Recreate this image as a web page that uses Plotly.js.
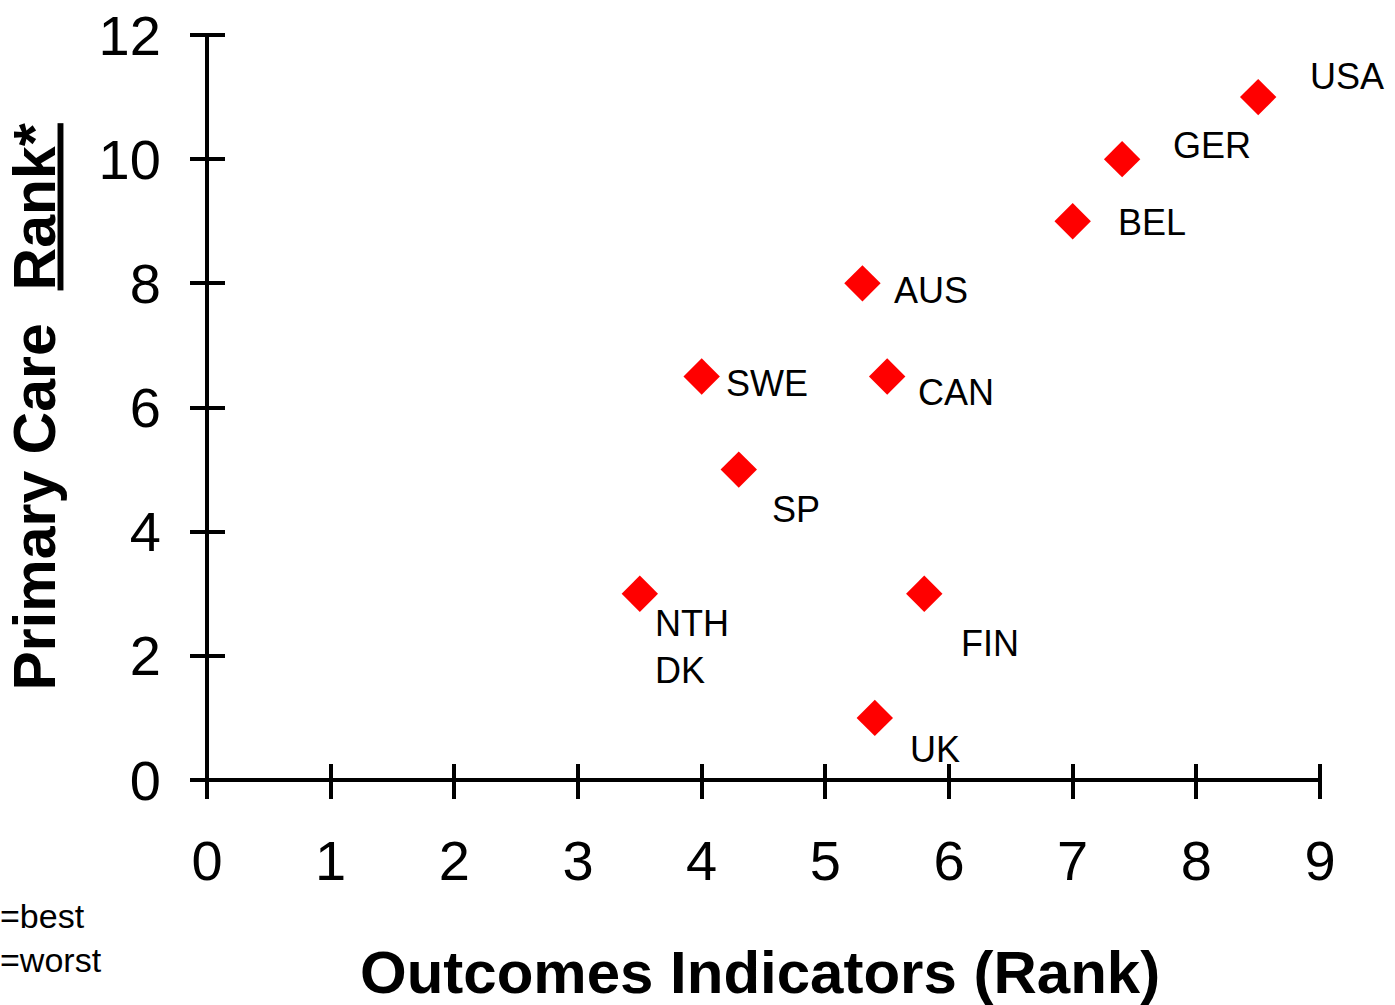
<!DOCTYPE html>
<html>
<head>
<meta charset="utf-8">
<script src="https://cdn.plot.ly/plotly-3.0.1.min.js"></script>
<style>html,body{margin:0;padding:0;background:#fff;}#chart{width:1395px;height:1005px;}</style>
</head>
<body>
<div id="chart"></div>
<script>
// Data
const countries = ["USA", "GER", "BEL", "AUS", "SWE", "CAN", "SP", "NTH<br>DK", "FIN", "UK"];
const outcomesRank = [8.5, 7.4, 7.0, 5.3, 4.0, 5.5, 4.3, 3.5, 5.8, 5.4];
const primaryCareRank = [11, 10, 9, 8, 6.5, 6.5, 5, 3, 3, 1];
const xTicks = [0, 1, 2, 3, 4, 5, 6, 7, 8, 9];
const yTicks = [0, 2, 4, 6, 8, 10, 12];
const xTitle = "Outcomes Indicators (Rank)";
const yTitle = "Primary Care\u00a0\u00a0<u>Rank*</u>";
const noteText = "=best<br>=worst";

// label offsets (pixels) relative to each marker
const labelShiftX = [50, 49, 43, 30, 22, 29, 31, 13, 35, 33];
const labelShiftY = [21, 14, -1, -7, -7, -16, -40, -53, -50, -32];

const FONT = "Liberation Sans, Arial, Helvetica, sans-serif";

const traces = [
  {
    type: "scatter",
    mode: "markers",
    x: outcomesRank,
    y: primaryCareRank,
    text: countries,
    marker: {symbol: "diamond", size: 28, color: "#ff0000", line: {width: 0}},
    cliponaxis: false,
    hoverinfo: "text+x+y",
    showlegend: false
  }
];

const annotations = countries.map((c, i) => ({
  x: outcomesRank[i],
  y: primaryCareRank[i],
  xref: "x",
  yref: "y",
  text: c,
  showarrow: false,
  xanchor: "left",
  yanchor: "middle",
  align: "left",
  xshift: labelShiftX[i],
  yshift: labelShiftY[i],
  font: {family: FONT, size: 36, color: "#000"}
}));

annotations.push({
  x: -0.188,
  y: -0.212,
  xref: "paper",
  yref: "paper",
  text: noteText,
  showarrow: false,
  xanchor: "left",
  yanchor: "middle",
  align: "left",
  font: {family: FONT, size: 34, color: "#000"}
});

// axis titles
annotations.push({
  x: 0.4969,
  y: -0.258,
  xref: "paper",
  yref: "paper",
  text: "<b>" + xTitle + "</b>",
  showarrow: false,
  borderpad: 0,
  xanchor: "center",
  yanchor: "middle",
  font: {family: FONT, size: 60, color: "#000"}
});
annotations.push({
  x: -0.1554,
  y: 0.5,
  xref: "paper",
  yref: "paper",
  text: "<b>" + yTitle + "</b>",
  textangle: -90,
  showarrow: false,
  borderpad: 0,
  xanchor: "center",
  yanchor: "middle",
  font: {family: FONT, size: 59, color: "#000"}
});

// The axes are drawn as free axes placed just inside the plot so that their
// long "outside" ticks cross the axis lines (which are the zero lines).
const layout = {
  width: 1395,
  height: 1005,
  margin: {l: 207, r: 75, t: 35, b: 225},
  paper_bgcolor: "#fff",
  plot_bgcolor: "#fff",
  showlegend: false,
  xaxis: {
    range: [0, 9],
    anchor: "free",
    position: 17 / 745,
    tickmode: "array",
    tickvals: xTicks,
    ticktext: xTicks.map(String),
    ticks: "outside",
    ticklen: 35,
    tickwidth: 4,
    tickcolor: "#000",
    ticklabelstandoff: 14,
    tickfont: {family: FONT, size: 56, color: "#000"},
    showline: false,
    showgrid: false,
    zeroline: true,
    zerolinecolor: "#000",
    zerolinewidth: 4,
    automargin: false
  },
  yaxis: {
    range: [0, 12],
    anchor: "free",
    position: 18 / 1113,
    tickmode: "array",
    tickvals: yTicks,
    ticktext: yTicks.map(String),
    ticks: "outside",
    ticklen: 35,
    tickwidth: 4,
    tickcolor: "#000",
    ticklabelstandoff: 18,
    tickfont: {family: FONT, size: 56, color: "#000"},
    showline: false,
    showgrid: false,
    zeroline: true,
    zerolinecolor: "#000",
    zerolinewidth: 4,
    automargin: false
  },
  annotations: annotations
};

Plotly.newPlot("chart", traces, layout, {displayModeBar: false});
</script>
</body>
</html>
